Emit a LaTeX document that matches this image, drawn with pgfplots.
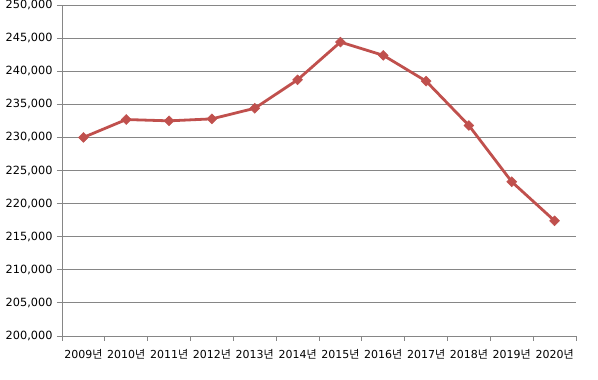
\documentclass[border=0pt]{standalone}
\usepackage{fontspec}
\setmainfont{DejaVu Sans}
\newfontfamily\kr{Noto Sans CJK KR}
\usepackage{pgfplots}
\pgfplotsset{compat=1.18}
\definecolor{linered}{RGB}{192,80,77}
\definecolor{gridgray}{RGB}{134,134,134}
\begin{document}
\begin{tikzpicture}[x=1pt,y=1pt]
\useasboundingbox (0,0) rectangle (598,380);
\begin{axis}[
  at={(62pt,44pt)}, anchor=south west,
  scale only axis, width=514pt, height=331pt,
  xmin=-0.5, xmax=11.5, ymin=200000, ymax=250000,
  axis x line*=bottom, axis y line*=left,
  axis line style={gridgray, line width=0.9pt},
  ytick={200000,205000,...,250000},
  scaled y ticks=false,
  ymajorgrids, grid style={gridgray, line width=0.8pt},
  tick align=outside, major tick length=5pt,
  tick style={gridgray, line width=0.8pt},
  xtick={-0.5,0.5,...,11.5}, xticklabels={},
  extra x ticks={0,1,2,3,4,5,6,7,8,9,10,11},
  extra x tick labels={2009{\kr 년},2010{\kr 년},2011{\kr 년},2012{\kr 년},2013{\kr 년},2014{\kr 년},2015{\kr 년},2016{\kr 년},2017{\kr 년},2018{\kr 년},2019{\kr 년},2020{\kr 년}},
  extra x tick style={major tick length=0pt, xticklabel style={yshift=-10pt}},
  xticklabel style={font=\fontsize{11}{13}\selectfont, text=black, inner xsep=0pt},
  yticklabel style={font=\fontsize{11.3}{13}\selectfont, text=black, xshift=-1pt},
  legend style={at={(1.0,0.45)}, xshift=532pt-514pt, anchor=west, draw=none, fill=none, inner sep=0pt, outer sep=0pt, column sep=0pt},
  legend image post style={line width=1.5pt},
  /pgf/number format/.cd, fixed, 1000 sep={,}, assume math mode=true,
]
\addplot[color=linered, line width=2.8pt, mark=square*, mark size=3.5pt, mark options={solid, fill=linered, rotate=45, line width=0.5pt}]
coordinates {
(0,230000) (1,232700) (2,232500) (3,232800) (4,234400) (5,238700)
(6,244400) (7,242400) (8,238500) (9,231800) (10,223300) (11,217400)
};
\legend{{}}
\end{axis}
\end{tikzpicture}
\end{document}
